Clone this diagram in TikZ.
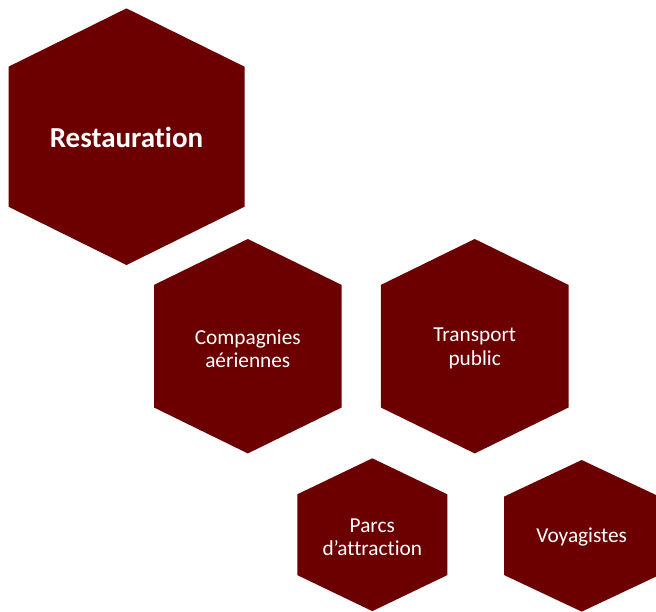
\documentclass[tikz,border=0pt]{standalone}
\usepackage{fontspec}
\setmainfont{Carlito}[Ligatures=NoCommon]
\definecolor{hexred}{RGB}{108,0,0}
\tikzset{
  hexfill/.style={fill=hexred, draw=none},
  hexlabel/.style={text=white, align=center, inner sep=0pt, font=\fontsize{21.3}{23.5}\selectfont},
  hexbig/.style={hexlabel, font=\fontsize{29}{32}\bfseries\selectfont}
}
% center x, center y, half-width, half-height, half-side
\newcommand\myhexa[5]{\fill[hexfill] (#1,#2-#4) -- (#1+#3,#2-#5) -- (#1+#3,#2+#5) -- (#1,#2+#4) -- (#1-#3,#2+#5) -- (#1-#3,#2-#5) -- cycle;}
\begin{document}
\begin{tikzpicture}[x=1pt,y=-1pt]
\useasboundingbox (0,0) rectangle (656,611);
\myhexa{126.5}{136.7}{118}{128.3}{70}
\myhexa{247.8}{346.2}{93.8}{107.2}{61.3}
\myhexa{474.7}{346.2}{93.8}{107.2}{61.3}
\myhexa{372.3}{534.7}{75}{76.4}{40.4}
\myhexa{581.7}{535.8}{77.7}{75.8}{39.2}
\node[hexbig] (rest) at (126.5,137.5) {Restauration};
\node[hexlabel] (comp) at (247.8,348.5) {Compagnies\\aériennes};
\node[hexlabel] (trans) at (474.7,348.5) {Transport\\public};
\node[hexlabel] (parcs) at (372.3,537) {Parcs\\d’attraction};
\node[hexlabel] (voy) at (581.7,537.3) {Voyagistes};
\end{tikzpicture}
\end{document}
